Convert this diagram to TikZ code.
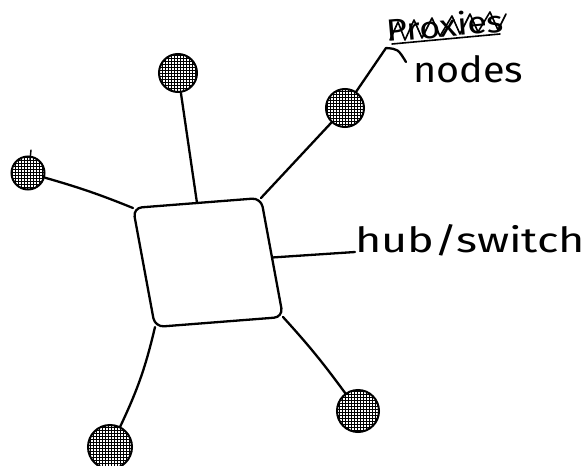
\documentclass[tikz,border=0pt]{standalone}
\usepackage{fontspec}
\newfontfamily\hand{Fira Sans}
\usetikzlibrary{patterns,calc}
\begin{document}
\begin{tikzpicture}[x=1pt,y=-1pt,
  ink/.style={line width=2.3pt, line cap=round, line join=round},
  station/.style={circle, draw, line width=2pt, pattern=grid, inner sep=0pt, minimum size=#1},
  label/.style={anchor=base west, inner sep=0pt}]
\fill[white] (0,0) rectangle (587,466);
\useasboundingbox (0,0) rectangle (587,466);

% hub / switch
\coordinate (hTL) at (133,208);
\coordinate (hTR) at (261,198);
\coordinate (hBR) at (283,317);
\coordinate (hBL) at (155,327);
\draw[ink, rounded corners=9pt] (hTL) -- (hTR) -- (hBR) -- (hBL) -- cycle;
\coordinate (hTop) at ($(hTL)!0.5!(hTR)$);
\coordinate (hRight) at ($(hTR)!0.5!(hBR)$);

% stations
\node[station=38pt] (nT) at (178,73) {};
\node[station=33pt] (nL) at (28,173) {};
\node[station=38pt] (nUR) at (345,108) {};
\node[station=42pt] (nLR) at (358,411) {};
\node[station=44pt] (nLL) at (110,447) {};
\draw[ink, line width=1.4pt] (31,150) -- (30,160);

% links
\draw[ink] (nT) -- (hTop);
\draw[ink] (nL) to[bend left=3] (hTL);
\draw[ink] (nUR) -- (hTR);
\draw[ink] (hBR) to[bend left=3] (nLR);
\draw[ink] (hBL) to[bend left=6] (nLL);

% labels
\node[label] (hubLabel) at (355,252) {\resizebox{230pt}{28pt}{\hand hub/switch}};
\draw[ink] (hRight) -- (hubLabel.base west);

\node[label] (nodesLabel) at (413,82) {\resizebox{110pt}{27pt}{\hand nodes}};
\node[label, rotate=5] (oldLabel) at (387,42) {\resizebox{118pt}{24pt}{\hand Proxies}};
\draw[line width=1.6pt, line cap=round, line join=round]
  (390,40) -- (398,22) -- (405,40) -- (414,20) -- (422,38) -- (432,18) -- (440,36)
  -- (452,16) -- (460,34) -- (470,14) -- (478,32) -- (490,12) -- (498,30) -- (506,14);
\draw[line width=1.6pt, line cap=round] (392,44) -- (500,34);

\coordinate (hookTop) at (386,48);
\coordinate (hookEnd) at (406,62);
\draw[ink] (nUR) -- (hookTop);
\draw[ink] (hookTop) .. controls (398,49) .. (hookEnd);
\end{tikzpicture}
\end{document}
